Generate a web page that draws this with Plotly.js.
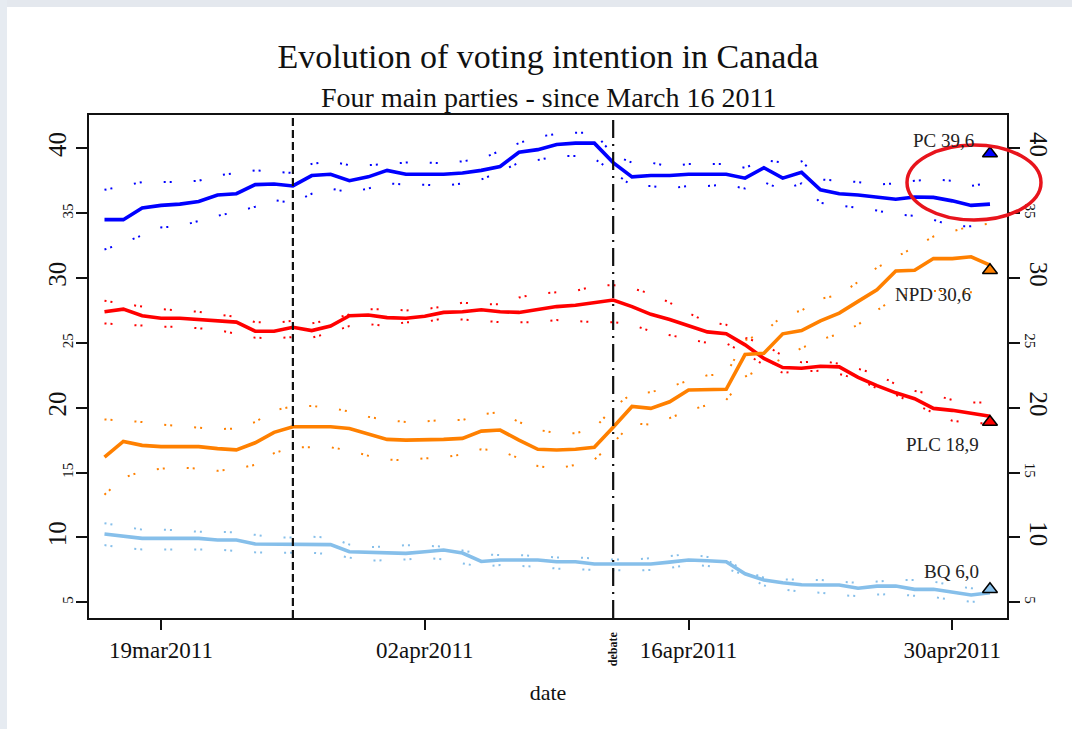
<!DOCTYPE html>
<html>
<head>
<meta charset="utf-8">
<script src="https://cdn.plot.ly/plotly-3.0.1.min.js"></script>
<style>html,body{margin:0;padding:0;background:#fff;}#chart{width:1072px;height:729px;}</style>
</head>
<body>
<div id="chart"></div>
<script>
// ---------- data ----------
const dates = ['2011-03-16','2011-03-17','2011-03-18','2011-03-19','2011-03-20','2011-03-21','2011-03-22','2011-03-23','2011-03-24','2011-03-25',
  '2011-03-26','2011-03-27','2011-03-28','2011-03-29','2011-03-30','2011-03-31','2011-04-01','2011-04-02','2011-04-03','2011-04-04',
  '2011-04-05','2011-04-06','2011-04-07','2011-04-08','2011-04-09','2011-04-10','2011-04-11','2011-04-12','2011-04-13','2011-04-14',
  '2011-04-15','2011-04-16','2011-04-17','2011-04-18','2011-04-19','2011-04-20','2011-04-21','2011-04-22','2011-04-23','2011-04-24',
  '2011-04-25','2011-04-26','2011-04-27','2011-04-28','2011-04-29','2011-04-30','2011-05-01','2011-05-02'];

const pcMean  = [34.5,34.5,35.4,35.6,35.7,35.9,36.4,36.5,37.2,37.25,37.1,37.9,38.0,37.5,37.8,38.3,38.0,38.0,38.0,38.1,
  38.3,38.6,39.7,39.9,40.3,40.4,40.4,38.9,37.8,37.9,37.9,38.0,38.0,38.0,37.7,38.5,37.7,38.15,36.8,36.5,
  36.4,36.2,36.07,36.25,36.22,35.95,35.6,35.7];
const pcUpper = [36.8,37.1,37.4,37.4,37.4,37.5,37.9,38.1,38.3,38.2,38.1,38.8,39.0,38.7,38.7,38.8,38.9,38.9,38.85,39.0,
  39.2,39.8,40.4,40.9,41.1,41.2,41.2,39.5,38.9,38.9,38.6,38.8,38.8,38.8,38.5,39.1,38.9,39.0,37.6,37.5,
  37.4,37.2,37.3,37.5,37.6,37.5,37.1,37.35];
const pcLower = [32.2,32.7,33.3,33.9,34.0,34.4,34.8,35.1,35.5,36.0,35.8,36.5,36.9,36.6,36.9,37.3,37.2,37.2,37.1,37.3,
  37.6,38.2,38.9,39.1,39.4,39.4,39.2,38.2,37.1,37.1,36.9,37.1,37.1,37.2,36.9,37.4,36.8,37.3,35.8,35.6,
  35.4,35.2,34.9,34.8,34.5,34.0,34.0,34.15];

const plcMean  = [27.4,27.6,27.1,26.9,26.9,26.8,26.7,26.6,25.9,25.9,26.2,25.95,26.3,27.1,27.15,26.95,26.9,27.05,27.35,27.4,
  27.55,27.4,27.35,27.6,27.8,27.9,28.1,28.3,27.8,27.2,26.8,26.3,25.85,25.7,24.85,23.8,23.1,23.05,23.2,23.15,
  22.35,21.7,21.15,20.7,19.95,19.8,19.55,19.35];
const plcUpper = [28.25,28.0,27.8,27.6,27.5,27.4,27.2,27.0,26.6,26.55,26.7,26.5,26.8,27.2,27.6,27.6,27.5,27.6,27.8,28.1,
  28.0,27.97,28.5,28.8,28.9,29.0,29.4,29.46,29.2,28.8,28.1,27.3,26.6,26.4,25.4,24.9,24.0,23.5,23.6,23.4,
  23.0,22.6,21.8,21.3,21.0,20.6,20.4,20.4];
const plcLower = [26.5,26.4,26.3,26.25,26.25,26.1,26.0,25.7,25.4,25.35,25.45,25.4,25.8,26.3,26.45,26.3,26.6,26.6,26.9,26.8,
  26.7,26.6,26.6,26.6,26.76,26.7,26.6,26.6,26.4,25.9,25.6,25.35,25.0,24.97,24.2,23.3,22.7,22.8,22.85,22.6,
  22.2,21.5,21.0,20.3,19.6,19.0,18.8,18.8];

const npdMean  = [16.2,17.4,17.1,17.0,17.0,17.0,16.85,16.75,17.3,18.1,18.54,18.54,18.54,18.4,17.97,17.56,17.5,17.5,17.56,17.64,
  18.2,18.28,17.5,16.8,16.74,16.8,16.95,18.5,20.1,19.95,20.46,21.37,21.42,21.42,24.1,24.2,25.7,25.95,26.7,27.3,
  28.2,29.1,30.55,30.6,31.5,31.5,31.64,31.0];
const npdUpper = [19.1,19.0,18.9,18.7,18.6,18.45,18.35,18.4,18.9,19.8,20.1,20.13,20.0,19.7,19.3,19.05,18.9,18.95,19.05,19.05,
  19.5,19.65,18.9,18.3,18.05,18.03,18.4,20.0,21.1,21.2,21.6,22.1,22.5,22.6,25.2,25.8,27.1,27.5,28.4,28.7,
  29.7,30.8,31.6,32.4,33.2,33.6,34.0,34.2];
const npdLower = [13.3,14.6,15.1,15.3,15.4,15.3,15.14,15.3,15.6,16.5,16.95,16.95,16.95,16.7,16.3,16.0,15.95,16.1,16.18,16.4,
  16.8,16.7,16.1,15.5,15.3,15.6,16.0,17.3,18.8,18.7,19.2,19.8,20.2,20.6,22.4,23.1,23.8,24.6,25.25,25.7,
  26.4,27.5,28.5,28.9,29.0,29.0,28.9,28.8];

const bqMean  = [10.26,10.1,9.93,9.93,9.93,9.93,9.8,9.8,9.5,9.5,9.5,9.49,9.45,8.9,8.85,8.77,8.77,8.9,9.03,8.8,
  8.15,8.26,8.26,8.26,8.13,8.13,7.95,7.95,7.95,7.95,8.1,8.26,8.2,8.13,7.2,6.72,6.51,6.35,6.33,6.33,
  6.08,6.25,6.25,6.0,6.0,5.81,5.56,5.74];
const bqUpper = [11.1,10.85,10.6,10.6,10.55,10.44,10.44,10.4,10.2,10.0,10.0,10.05,10.0,9.45,9.25,9.3,9.41,9.35,9.3,9.0,
  8.7,8.64,8.64,8.55,8.46,8.46,8.4,8.3,8.3,8.4,8.56,8.72,8.5,8.3,7.4,6.9,6.77,6.75,6.72,6.6,
  6.5,6.6,6.72,6.72,6.6,6.3,6.08,6.2];
const bqLower = [9.41,9.2,9.08,9.08,9.08,9.08,9.08,8.95,8.85,8.82,8.82,8.82,8.7,8.45,8.2,8.25,8.3,8.45,8.3,8.0,
  7.74,7.87,7.8,7.74,7.6,7.54,7.5,7.48,7.44,7.5,7.65,7.9,7.8,7.6,7.1,6.3,6.0,5.8,5.74,5.55,
  5.48,5.6,5.63,5.5,5.4,5.2,5.04,5.1];

// election results (triangles) and their labels
const resultDate    = '2011-05-02';
const resultParties = ['PC','NPD','PLC','BQ'];
const resultValues  = [39.6, 30.6, 18.9, 6.0];
const resultLabels  = ['PC 39,6','NPD 30,6','PLC 18,9','BQ 6,0'];

// axis ticks
const xTickDates  = ['2011-03-19','2011-04-02','2011-04-16','2011-04-30'];
const xTickLabels = ['19mar2011','02apr2011','16apr2011','30apr2011'];
const yTickValues = [5,10,15,20,25,30,35,40];
const yMajorTicks = [10,20,30,40];
const yMinorTicks = [5,15,25,35];

// event markers
const campaignDate = '2011-03-26';
const debateDate   = '2011-04-12';

// ---------- styling ----------
const SERIF = 'Liberation Serif, Times New Roman, serif';
const colors = {PC:'#0000ff', PLC:'#ff0000', NPD:'#ff8000', BQ:'#86bfea'};
const BAND_DASH = '2px,4px,2px,22px';

function band(y, c){ return {x:dates, y:y, type:'scatter', mode:'lines', hoverinfo:'skip',
  line:{color:c, width:2, dash:BAND_DASH}, showlegend:false}; }
function mainLine(y, c){ return {x:dates, y:y, type:'scatter', mode:'lines',
  line:{color:c, width:3.6}, showlegend:false}; }
function ghost(axis){ return {x:[dates[0]], y:[yTickValues[0]], yaxis:axis, type:'scatter', mode:'markers',
  marker:{opacity:0}, showlegend:false, hoverinfo:'skip'}; }

const traces = [
  band(pcUpper, colors.PC), band(pcLower, colors.PC),
  band(plcUpper, colors.PLC), band(plcLower, colors.PLC),
  band(npdUpper, colors.NPD), band(npdLower, colors.NPD),
  band(bqUpper, colors.BQ), band(bqLower, colors.BQ),
  mainLine(pcMean, colors.PC), mainLine(plcMean, colors.PLC),
  mainLine(npdMean, colors.NPD), mainLine(bqMean, colors.BQ),
  {x:resultParties.map(()=>resultDate), y:resultValues, type:'scatter', mode:'markers', showlegend:false,
   marker:{symbol:'triangle-up', size:13, color:resultParties.map(p=>colors[p]), line:{color:'#000', width:1.5}}},
  ghost('y2'), ghost('y3'), ghost('y4')
];

const X0 = 89, X1 = 1007, Y0 = 115, Y1 = 618;      // plot area in pixels
const px = p => (p - X0) / (X1 - X0);
const py = p => (Y1 - p) / (Y1 - Y0);

const labelShift = [[-14, 13], [-17, -24], [-9, -22], [-9, 18]];

const annotations = [
  {text:'Four main parties - since March 16 2011', xref:'paper', yref:'paper', x:0.5, y:py(97),
   xanchor:'center', yanchor:'middle', showarrow:false, font:{family:SERIF, size:28, color:'#111'}},
  {text:'<b>debate</b>', xref:'x', yref:'paper', x:debateDate, y:py(649), textangle:-90,
   xanchor:'center', yanchor:'middle', showarrow:false, font:{family:SERIF, size:12, color:'#111'}}
].concat(resultLabels.map((t,i)=>({text:t, xref:'x', yref:'y', x:resultDate, y:resultValues[i],
   xanchor:'right', yanchor:'middle', xshift:labelShift[i][0], yshift:labelShift[i][1], showarrow:false,
   font:{family:SERIF, size:19, color:'#222'}})));

const shapes = [
  {type:'rect', xref:'paper', yref:'paper', x0:px(0), x1:px(1072), y0:py(7), y1:py(0), fillcolor:'#e4e8ee', line:{width:0}, layer:'below'},
  {type:'rect', xref:'paper', yref:'paper', x0:px(0), x1:px(7), y0:py(729), y1:py(0), fillcolor:'#e6ebf1', line:{width:0}, layer:'below'},
  {type:'line', xref:'x', yref:'paper', x0:campaignDate, x1:campaignDate, y0:0, y1:1, line:{color:'#111', width:2.2, dash:'8px,4px'}},
  {type:'line', xref:'x', yref:'paper', x0:debateDate, x1:debateDate, y0:0, y1:1, line:{color:'#111', width:2.2, dash:'18px,6px,2px,6px'}},
  {type:'circle', xref:'paper', yref:'paper', x0:px(907), x1:px(1041), y0:py(220), y1:py(145), line:{color:'#e8141c', width:3.5}, layer:'above'}
];

const YR = [3.79, 42.57];
const axisCommon = {showgrid:false, zeroline:false, tickcolor:'#111', tickwidth:2,
  linecolor:'#111', linewidth:2};

const layout = {
  width:1072, height:729,
  margin:{l:X0, r:1072-X1, t:Y0, b:729-Y1, pad:0},
  paper_bgcolor:'#ffffff', plot_bgcolor:'#ffffff',
  showlegend:false,
  title:{text:'Evolution of voting intention in Canada', font:{family:SERIF, size:34, color:'#111'},
    x:0.5, xref:'paper', xanchor:'center', y:1-56/729, yref:'container', yanchor:'middle'},
  xaxis:Object.assign({}, axisCommon, {type:'date', range:['2011-03-15 04:16','2011-05-02 21:42'],
    showline:true, ticks:'outside', tickvals:xTickDates, ticktext:xTickLabels, ticklen:10, mirror:true,
    tickfont:{family:SERIF, size:23, color:'#111'},
    title:{text:'date', font:{family:SERIF, size:22, color:'#111'}, standoff:23}}),
  // left axis: all ticks, major labels
  yaxis:Object.assign({}, axisCommon, {range:YR, showline:true, ticks:'outside', tickvals:yTickValues,
    ticktext:yTickValues.map(v => yMajorTicks.includes(v) ? String(v) : ''),
    ticklen:11, tickangle:-90, mirror:true, tickfont:{family:SERIF, size:25, color:'#111'}}),
  // right axis: all ticks, major labels
  yaxis2:Object.assign({}, axisCommon, {range:YR, overlaying:'y', side:'right', showline:true, ticks:'outside',
    tickvals:yTickValues, ticktext:yTickValues.map(v => yMajorTicks.includes(v) ? String(v) : ''),
    ticklen:11, tickangle:90, tickfont:{family:SERIF, size:25, color:'#111'}}),
  // left minor labels (smaller, closer to the axis)
  yaxis3:Object.assign({}, axisCommon, {range:YR, overlaying:'y', side:'left', showline:false, ticks:'outside',
    tickcolor:'rgba(0,0,0,0)', tickvals:yMinorTicks, ticktext:yMinorTicks.map(String), ticklen:11,
    tickangle:-90, ticklabelstandoff:-2, tickfont:{family:SERIF, size:15, color:'#111'}}),
  // right minor labels
  yaxis4:Object.assign({}, axisCommon, {range:YR, overlaying:'y', side:'right', showline:false, ticks:'outside',
    tickcolor:'rgba(0,0,0,0)', tickvals:yMinorTicks, ticktext:yMinorTicks.map(String), ticklen:11,
    tickangle:90, tickfont:{family:SERIF, size:15, color:'#111'}}),
  annotations:annotations,
  shapes:shapes
};

Plotly.newPlot('chart', traces, layout, {displayModeBar:false, staticPlot:true});
</script>
</body>
</html>
